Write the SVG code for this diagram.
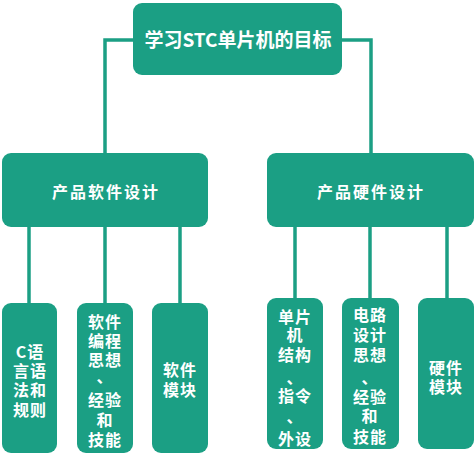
<svg xmlns="http://www.w3.org/2000/svg" width="475" height="455" viewBox="0 0 475 455">
<style>
.box{fill:#1b9f84;}
.ln{fill:none;stroke:#1b9f84;stroke-width:3.5;}
.t{fill:#ffffff;font-family:"Noto Sans CJK SC","Noto Sans",sans-serif;font-weight:bold;text-anchor:middle;}
.t1{font-size:19px;}
.t2{font-size:16px;letter-spacing:2px;}
.t3{font-size:16px;letter-spacing:1px;}
</style>
<rect width="475" height="455" fill="#ffffff"/>
<g id="connectors">
<path class="ln" d="M134,40 H105 V154"/>
<path class="ln" d="M341,40 H371 V154"/>
<path class="ln" d="M29,226 V304"/>
<path class="ln" d="M105,226 V304"/>
<path class="ln" d="M180,226 V304"/>
<path class="ln" d="M295,226 V299"/>
<path class="ln" d="M370,226 V299"/>
<path class="ln" d="M447,226 V299"/>
</g>
<g id="root">
<rect class="box" x="133" y="3" width="209" height="72" rx="9"/>
<text class="t t1" x="238" y="47">学习STC单片机的目标</text>
</g>
<g id="software">
<rect class="box" x="2" y="153" width="206" height="74" rx="9"/>
<text class="t t2" x="106" y="198">产品软件设计</text>
</g>
<g id="hardware">
<rect class="box" x="267" y="153" width="207" height="74" rx="9"/>
<text class="t t2" x="371" y="198">产品硬件设计</text>
</g>
<g id="c-lang">
<rect class="box" x="2" y="303" width="55" height="150" rx="9"/>
<text class="t t3" x="30"><tspan x="30" y="358">C语</tspan><tspan x="30" y="377">言语</tspan><tspan x="30" y="396">法和</tspan><tspan x="30" y="416">规则</tspan></text>
</g>
<g id="sw-thinking">
<rect class="box" x="77" y="303" width="56" height="150" rx="9"/>
<text class="t t3" x="105"><tspan x="105" y="328">软件</tspan><tspan x="105" y="347">编程</tspan><tspan x="105" y="366">思想</tspan><tspan x="105" y="383">、</tspan><tspan x="105" y="406">经验</tspan><tspan x="105" y="426">和</tspan><tspan x="105" y="446">技能</tspan></text>
</g>
<g id="sw-module">
<rect class="box" x="152" y="303" width="56" height="150" rx="9"/>
<text class="t t3" x="180"><tspan x="180" y="376">软件</tspan><tspan x="180" y="396">模块</tspan></text>
</g>
<g id="mcu">
<rect class="box" x="267" y="298" width="56" height="151" rx="9"/>
<text class="t t3" x="295"><tspan x="295" y="323">单片</tspan><tspan x="295" y="341">机</tspan><tspan x="295" y="361">结构</tspan><tspan x="295" y="384">、</tspan><tspan x="295" y="402">指令</tspan><tspan x="295" y="423">、</tspan><tspan x="295" y="445">外设</tspan></text>
</g>
<g id="circuit">
<rect class="box" x="342" y="298" width="57" height="151" rx="9"/>
<text class="t t3" x="370"><tspan x="370" y="321">电路</tspan><tspan x="370" y="341">设计</tspan><tspan x="370" y="361">思想</tspan><tspan x="370" y="384">、</tspan><tspan x="370" y="403">经验</tspan><tspan x="370" y="422">和</tspan><tspan x="370" y="443">技能</tspan></text>
</g>
<g id="hw-module">
<rect class="box" x="418" y="298" width="56" height="151" rx="9"/>
<text class="t t3" x="446"><tspan x="446" y="374">硬件</tspan><tspan x="446" y="393">模块</tspan></text>
</g>
</svg>
